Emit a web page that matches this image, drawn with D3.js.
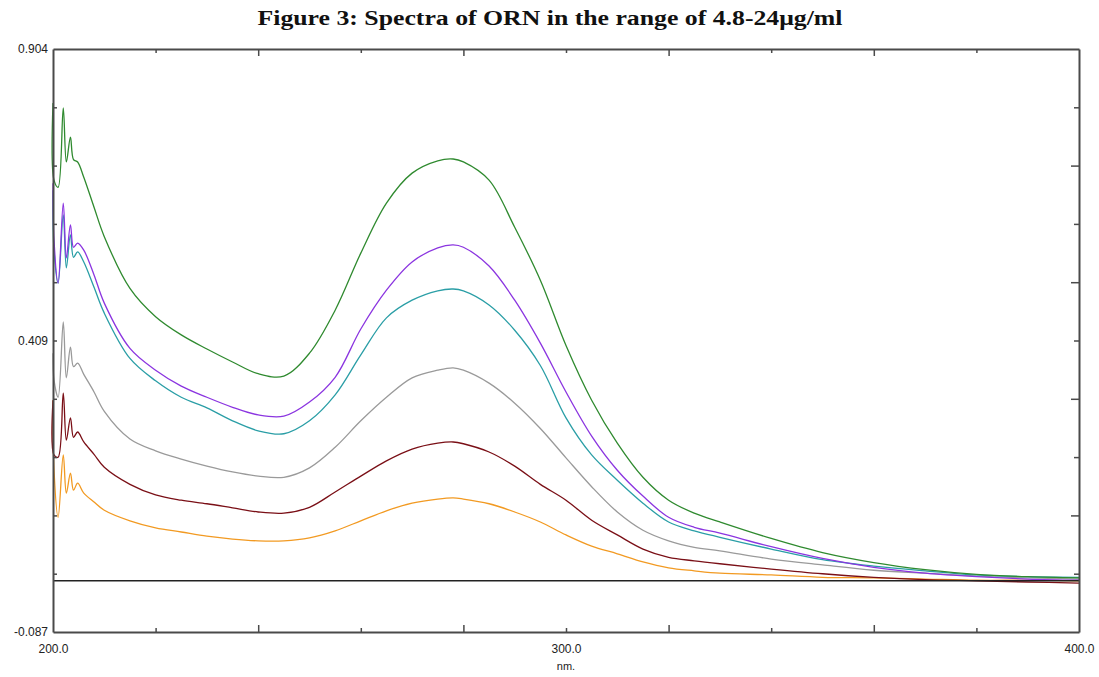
<!DOCTYPE html>
<html>
<head>
<meta charset="utf-8">
<script src="https://cdn.jsdelivr.net/npm/d3@7"></script>
<style>
  body { margin: 0; background: #fff; }
  svg { display: block; }
</style>
</head>
<body>
<div id="chart"></div>
<script>
// wavelengths (nm) shared by all scans
const wavelengths = [200, 200.2, 201, 202, 202.6, 203.4, 204, 204.8, 206, 208, 210, 215, 220, 225, 230, 235, 240, 245,
  250, 255, 260, 265, 270, 275, 278, 280, 285, 290, 295, 300, 305, 310, 315, 320, 325, 330, 340, 350, 360, 370, 380, 390, 400];

// absorbance
const green = [0.812, 0.681, 0.669, 0.804, 0.712, 0.754, 0.716, 0.712, 0.686, 0.635, 0.585, 0.497, 0.449, 0.418, 0.394, 0.372, 0.352, 0.348,
  0.387, 0.460, 0.557, 0.642, 0.693, 0.714, 0.717, 0.712, 0.681, 0.601, 0.511, 0.400, 0.307, 0.234, 0.176, 0.137, 0.115, 0.100, 0.072, 0.048, 0.031, 0.019, 0.011, 0.007, 0.005];
const purple = [0.676, 0.579, 0.506, 0.642, 0.549, 0.605, 0.567, 0.574, 0.562, 0.520, 0.472, 0.395, 0.358, 0.331, 0.312, 0.295, 0.282, 0.280,
  0.304, 0.346, 0.428, 0.494, 0.542, 0.566, 0.571, 0.567, 0.535, 0.477, 0.404, 0.321, 0.246, 0.188, 0.144, 0.108, 0.091, 0.081, 0.058, 0.038, 0.023, 0.013, 0.007, 0.003, 0.001];
const teal = [0.664, 0.562, 0.506, 0.622, 0.532, 0.588, 0.550, 0.559, 0.542, 0.499, 0.455, 0.378, 0.340, 0.312, 0.294, 0.272, 0.255, 0.250,
  0.272, 0.316, 0.384, 0.447, 0.477, 0.493, 0.496, 0.493, 0.469, 0.426, 0.366, 0.277, 0.214, 0.171, 0.132, 0.100, 0.085, 0.074, 0.054, 0.036, 0.025, 0.017, 0.010, 0.007, 0.006];
const gray = [0.387, 0.341, 0.312, 0.440, 0.345, 0.397, 0.364, 0.370, 0.351, 0.321, 0.288, 0.241, 0.221, 0.207, 0.195, 0.185, 0.178, 0.176,
  0.192, 0.227, 0.272, 0.312, 0.345, 0.358, 0.362, 0.358, 0.336, 0.302, 0.259, 0.209, 0.160, 0.117, 0.086, 0.068, 0.057, 0.051, 0.037, 0.027, 0.018, 0.013, 0.008, 0.005, 0.003];
const maroon = [0.307, 0.214, 0.210, 0.319, 0.239, 0.277, 0.244, 0.253, 0.236, 0.215, 0.193, 0.164, 0.146, 0.137, 0.131, 0.124, 0.117, 0.115,
  0.125, 0.151, 0.178, 0.204, 0.224, 0.234, 0.236, 0.233, 0.219, 0.195, 0.164, 0.137, 0.103, 0.078, 0.054, 0.040, 0.034, 0.029, 0.020, 0.012, 0.006, 0.002, 0.000, -0.002, -0.004];
const orange = [0.307, 0.188, 0.108, 0.214, 0.149, 0.183, 0.154, 0.166, 0.149, 0.134, 0.120, 0.102, 0.090, 0.083, 0.076, 0.071, 0.068, 0.068,
  0.073, 0.085, 0.102, 0.119, 0.132, 0.139, 0.141, 0.139, 0.131, 0.117, 0.100, 0.078, 0.059, 0.046, 0.032, 0.022, 0.017, 0.013, 0.010, 0.006, 0.005, 0.003, 0.001, 0.001, 0.000];

const seriesColors = ['#2f8a2f', '#8b35e0', '#2a9ea6', '#9a9a9a', '#7a0f16', '#f29a22'];

const xTickValues = d3.range(200, 401, 20);
const xTickLabels = { 200: '200.0', 300: '300.0', 400: '400.0' };
const yTickValues = d3.range(0, 11).map((k) => -0.087 + k * 0.0991);
const yTickLabels = ['-0.087', '0.409', '0.904'];

const spectra = {

  width: 1099,
  height: 677,
  margin: { top: 49, right: 20, bottom: 45, left: 53 },

  draw: function () {
    const m = this.margin;
    const svg = d3.select('#chart').append('svg')
      .attr('width', this.width)
      .attr('height', this.height);

    const x = d3.scaleLinear().domain([200, 400]).range([m.left, this.width - m.right]);
    const y = d3.scaleLinear().domain([-0.087, 0.904]).range([this.height - m.bottom, m.top]);

    //title
    svg.append('text')
      .attr('x', 550)
      .attr('y', 25)
      .attr('text-anchor', 'middle')
      .attr('textLength', 585)
      .attr('lengthAdjust', 'spacingAndGlyphs')
      .style('font-family', '"Liberation Serif", "Times New Roman", serif')
      .style('font-weight', 'bold')
      .style('font-size', '20px')
      .style('fill', '#111')
      .text('Figure 3: Spectra of ORN in the range of 4.8-24μg/ml');

    //spectra - centripetal catmull-rom keeps the spikes and rounds the peaks
    const line = d3.line()
      .x((d) => x(d[0]))
      .y((d) => y(d[1]))
      .curve(d3.curveCatmullRom.alpha(0.5));

    const allSeries = [green, purple, teal, gray, maroon, orange];
    // draw lowest first so the green ends up on top like the scan
    allSeries.map((s, i) => ({ values: s, color: seriesColors[i] }))
      .reverse()
      .forEach((s) => {
        svg.append('path')
          .datum(wavelengths.map((w, j) => [w, s.values[j]]))
          .attr('d', line)
          .attr('fill', 'none')
          .attr('stroke', s.color)
          .attr('stroke-width', 1.3);
      });

    //zero baseline
    svg.append('line')
      .attr('x1', x(200)).attr('x2', x(400))
      .attr('y1', y(0)).attr('y2', y(0))
      .attr('stroke', '#222')
      .attr('stroke-width', 1.4);

    const axisColor = '#4a4a4a';
    const tickFont = (sel) => sel
      .style('font-family', '"Liberation Sans", Arial, sans-serif')
      .style('font-size', '12px')
      .style('fill', '#222');

    //bottom axis, inward ticks, labels at 200 / 300 / 400 only
    const bottom = d3.axisBottom(x)
      .tickValues(xTickValues)
      .tickSizeInner(0)
      .tickSizeOuter(0)
      .tickPadding(12)
      .tickFormat((d) => xTickLabels[d] || '');
    const gB = svg.append('g')
      .attr('transform', 'translate(0,' + y(-0.087) + ')')
      .call(bottom);
    gB.select('.domain').attr('stroke', axisColor).attr('stroke-width', 2);
    gB.selectAll('.tick line')
      .attr('y2', (d, i) => i === 0 || i === 10 ? 0 : (i % 2 === 0 ? -7 : -4))
      .attr('stroke', axisColor).attr('stroke-width', 1.5);
    gB.selectAll('.tick text').call(tickFont);

    //top axis, same ticks pointing down
    const gT = svg.append('g')
      .attr('transform', 'translate(0,' + y(0.904) + ')')
      .call(d3.axisTop(x).tickValues(xTickValues).tickSizeOuter(0).tickFormat(''));
    gT.select('.domain').attr('stroke', axisColor).attr('stroke-width', 2);
    gT.selectAll('.tick line')
      .attr('y2', (d, i) => i === 0 || i === 10 ? 0 : (i % 2 === 0 ? 7 : 4))
      .attr('stroke', axisColor).attr('stroke-width', 1.5);

    //left axis
    const left = d3.axisLeft(y)
      .tickValues(yTickValues)
      .tickSizeOuter(0)
      .tickSizeInner(0)
      .tickPadding(5)
      .tickFormat((d, i) => i === 0 ? yTickLabels[0] : i === 5 ? yTickLabels[1] : i === 10 ? yTickLabels[2] : '');
    const gL = svg.append('g')
      .attr('transform', 'translate(' + x(200) + ',0)')
      .call(left);
    gL.select('.domain').attr('stroke', axisColor).attr('stroke-width', 2);
    gL.selectAll('.tick line')
      .attr('x2', (d, i) => i === 0 || i === 10 ? 0 : 4)
      .attr('stroke', axisColor).attr('stroke-width', 1.5);
    gL.selectAll('.tick text').call(tickFont);

    //right axis, no labels
    const gR = svg.append('g')
      .attr('transform', 'translate(' + x(400) + ',0)')
      .call(d3.axisRight(y).tickValues(yTickValues).tickSizeOuter(0).tickFormat(''));
    gR.select('.domain').attr('stroke', axisColor).attr('stroke-width', 2);
    gR.selectAll('.tick line')
      .attr('x2', (d, i) => i === 0 || i === 10 ? 0 : (i % 2 === 0 ? -8 : -5))
      .attr('stroke', axisColor).attr('stroke-width', 1.5);

    //unit label
    svg.append('text')
      .attr('x', x(300))
      .attr('y', 670)
      .attr('text-anchor', 'middle')
      .call(tickFont)
      .style('font-size', '11px')
      .text('nm.');
  }
};

spectra.draw();
</script>
</body>
</html>
